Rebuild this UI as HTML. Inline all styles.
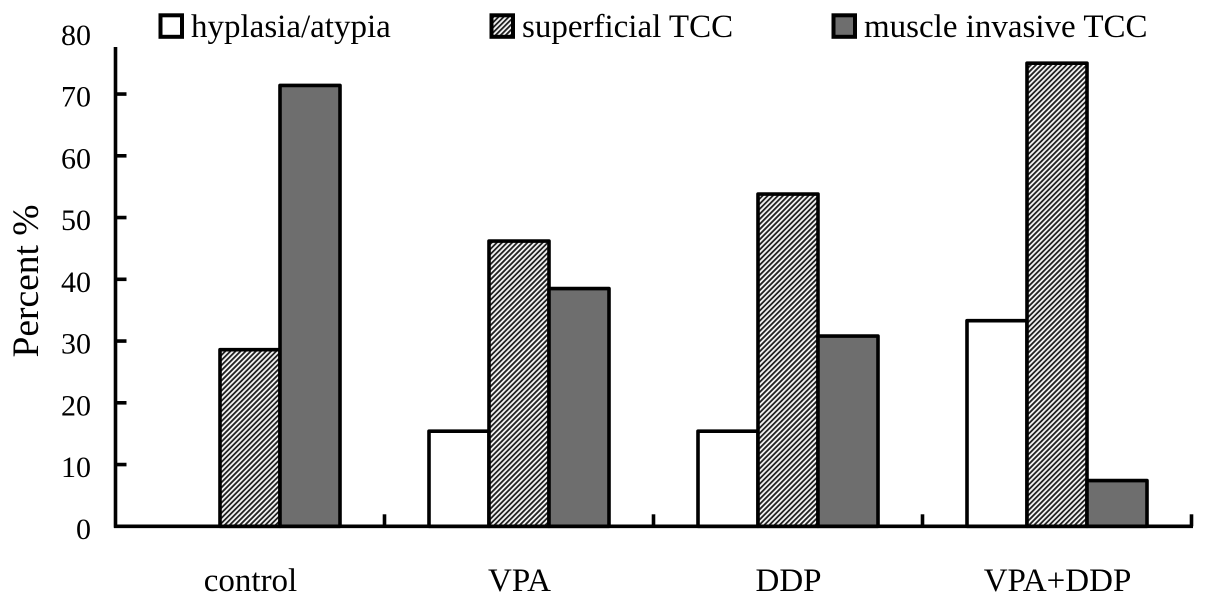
<!DOCTYPE html>
<html>
<head>
<meta charset="utf-8">
<style>
html,body{margin:0;padding:0;background:#fff;width:1205px;height:605px;overflow:hidden}
svg{display:block}
text{font-family:"Liberation Serif",serif;fill:#000}
</style>
</head>
<body>
<svg id="chart" width="1205" height="605" viewBox="0 0 1205 605" xmlns="http://www.w3.org/2000/svg">
<defs>
<pattern id="hatch" width="3.6" height="3.6" patternUnits="userSpaceOnUse" patternTransform="rotate(45)">
<rect width="3.6" height="3.6" fill="#f2f2f2"></rect>
<rect width="1.8" height="3.6" fill="#222"></rect>
</pattern>
</defs>
<g id="bars"></g>
<g id="axes"></g>
<g id="legend"></g>
<text transform="translate(38,281) rotate(-90)" text-anchor="middle" font-size="37.5">Percent %</text>
</svg>
<script>
const categories = ['control', 'VPA', 'DDP', 'VPA+DDP'];
const seriesNames = ['hyplasia/atypia', 'superficial TCC', 'muscle invasive TCC'];
const hyplasia = [0, 15.4, 15.4, 33.3];
const superficial = [28.6, 46.2, 53.8, 75];
const muscle = [71.4, 38.5, 30.8, 7.4];
const yTicks = [0, 10, 20, 30, 40, 50, 60, 70, 80];

const NS = 'http://www.w3.org/2000/svg';
const seriesValues = [hyplasia, superficial, muscle];
const fills = ['#fff', 'url(#hatch)', '#6e6e6e'];
const plotLeft = 115.5, plotRight = 1191.5, baseY = 526.3, unitY = 6.175, barW = 60;
const axisTop = 47;
const lineW = 3.6;

function yScale(v) { return baseY - v * unitY; }
function bandW() { return (plotRight - plotLeft) / categories.length; }
function bandCenter(i) { return plotLeft + bandW() * (i + 0.5); }
function make(tag, attrs, parent) {
  const el = document.createElementNS(NS, tag);
  for (const k in attrs) el.setAttribute(k, attrs[k]);
  parent.appendChild(el);
  return el;
}

const barsG = document.getElementById('bars');
const axesG = document.getElementById('axes');
const legendG = document.getElementById('legend');

seriesValues.forEach(function (vals, s) {
  vals.forEach(function (v, i) {
    if (v <= 0) return;
    const x = bandCenter(i) + (s - 1.5) * barW;
    const r = make('rect', { x: x, y: yScale(v), width: barW, height: baseY - yScale(v), fill: fills[s], stroke: '#000', 'stroke-width': lineW, 'stroke-linejoin': 'round' }, barsG);
    
    
  });
});

const yLine = make('line', { x1: plotLeft, x2: plotLeft, y1: axisTop, y2: baseY + 1.5, stroke: '#000', 'stroke-width': lineW }, axesG);


const xLine = make('line', { x1: plotLeft - 1.5, x2: plotRight + 1.5, y1: baseY, y2: baseY, stroke: '#000', 'stroke-width': lineW }, axesG);



yTicks.forEach(function (t) {
  if (t > 0 && yScale(t) > axisTop) {
    const tick = make('line', { x1: plotLeft, x2: plotLeft + 11, y1: yScale(t), y2: yScale(t), stroke: '#000', 'stroke-width': lineW }, axesG);
    
    
  }
  const lab = make('text', { x: 91, y: yScale(t) + 12.5, 'text-anchor': 'end', 'font-size': 30 }, axesG);
  lab.textContent = String(t);
  
  
});

categories.forEach(function (c, i) {
  const tx = plotLeft + bandW() * (i + 1);
  const tick = make('line', { x1: tx, x2: tx, y1: baseY, y2: baseY - 12, stroke: '#000', 'stroke-width': lineW }, axesG);
  
  
  const lab = make('text', { x: bandCenter(i) + 0.5, y: 591, 'text-anchor': 'middle', 'font-size': 33 }, axesG);
  lab.textContent = c;
  
  
});

const legendX = [160.5, 491.5, 833.5];
seriesNames.forEach(function (n, s) {
  const sw = make('rect', { x: legendX[s], y: 15.3, width: 21.5, height: 21.5, fill: fills[s], stroke: '#000', 'stroke-width': 4 }, legendG);
  
  
  const lab = make('text', { x: legendX[s] + 30.5, y: 37, 'font-size': 33 }, legendG);
  lab.textContent = n;
  
  
});
</script>
</body>
</html>
